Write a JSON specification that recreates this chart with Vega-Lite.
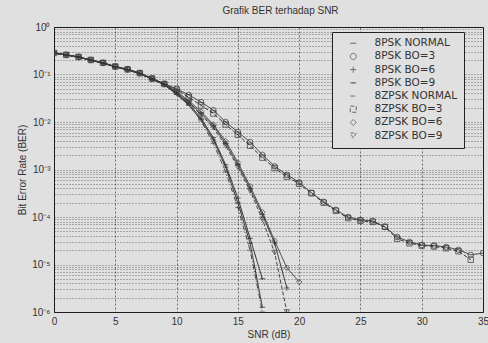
{
 "$schema": "https://vega.github.io/schema/vega-lite/v6.json",
 "width": 429, "height": 285,
 "autosize": {"type": "none"},
 "padding": {"left": 54, "top": 27, "right": 5, "bottom": 31},
 "background": "#e0e0e0",
 "title": {"text": "Grafik BER terhadap SNR", "fontSize": 10, "fontWeight": "normal", "font": "Liberation Sans", "color": "#333", "offset": 6, "dx": 12},
 "config": {
  "view": {"stroke": "#222", "strokeWidth": 1, "fill": "#e0e0e0"},
  "axis": {"labelFont": "Liberation Sans", "labelFontSize": 10, "labelColor": "#333", "titleFont": "Liberation Sans", "titleFontSize": 10, "titleFontWeight": "normal", "titleColor": "#333", "ticks": false, "domain": false, "grid": true, "gridColor": "#111", "gridOpacity": 0.55, "gridDash": [2, 2], "gridWidth": 1, "labelOverlap": false, "labelFlush": false, "labelBound": false}
 },
 "data": {"values": [
  {"s":"8PSK NORMAL","snr":0,"ber":0.282},{"s":"8PSK NORMAL","snr":1,"ber":0.257},{"s":"8PSK NORMAL","snr":2,"ber":0.232},{"s":"8PSK NORMAL","snr":3,"ber":0.2},{"s":"8PSK NORMAL","snr":4,"ber":0.174},{"s":"8PSK NORMAL","snr":5,"ber":0.145},{"s":"8PSK NORMAL","snr":6,"ber":0.126},{"s":"8PSK NORMAL","snr":7,"ber":0.105},{"s":"8PSK NORMAL","snr":8,"ber":0.08},{"s":"8PSK NORMAL","snr":9,"ber":0.061},{"s":"8PSK NORMAL","snr":10,"ber":0.038},{"s":"8PSK NORMAL","snr":11,"ber":0.0224},{"s":"8PSK NORMAL","snr":12,"ber":0.0112},{"s":"8PSK NORMAL","snr":13,"ber":0.0042},{"s":"8PSK NORMAL","snr":14,"ber":0.00112},{"s":"8PSK NORMAL","snr":15,"ber":0.0002},{"s":"8PSK NORMAL","snr":16,"ber":0.000028},{"s":"8PSK NORMAL","snr":17,"ber":0.00000126},
  {"s":"8PSK BO=3","snr":0,"ber":0.285},{"s":"8PSK BO=3","snr":1,"ber":0.26},{"s":"8PSK BO=3","snr":2,"ber":0.235},{"s":"8PSK BO=3","snr":3,"ber":0.203},{"s":"8PSK BO=3","snr":4,"ber":0.177},{"s":"8PSK BO=3","snr":5,"ber":0.148},{"s":"8PSK BO=3","snr":6,"ber":0.13},{"s":"8PSK BO=3","snr":7,"ber":0.108},{"s":"8PSK BO=3","snr":8,"ber":0.083},{"s":"8PSK BO=3","snr":9,"ber":0.064},{"s":"8PSK BO=3","snr":10,"ber":0.05},{"s":"8PSK BO=3","snr":11,"ber":0.0372},{"s":"8PSK BO=3","snr":12,"ber":0.0263},{"s":"8PSK BO=3","snr":13,"ber":0.0178},{"s":"8PSK BO=3","snr":14,"ber":0.01},{"s":"8PSK BO=3","snr":15,"ber":0.00617},{"s":"8PSK BO=3","snr":16,"ber":0.0038},{"s":"8PSK BO=3","snr":17,"ber":0.00204},{"s":"8PSK BO=3","snr":18,"ber":0.00117},{"s":"8PSK BO=3","snr":19,"ber":0.000776},{"s":"8PSK BO=3","snr":20,"ber":0.000537},{"s":"8PSK BO=3","snr":21,"ber":0.000324},{"s":"8PSK BO=3","snr":22,"ber":0.000209},{"s":"8PSK BO=3","snr":23,"ber":0.000141},{"s":"8PSK BO=3","snr":24,"ber":0.0001},{"s":"8PSK BO=3","snr":25,"ber":0.000087},{"s":"8PSK BO=3","snr":26,"ber":0.000083},{"s":"8PSK BO=3","snr":27,"ber":0.000062},{"s":"8PSK BO=3","snr":28,"ber":0.000038},{"s":"8PSK BO=3","snr":29,"ber":0.00003},{"s":"8PSK BO=3","snr":30,"ber":0.0000257},{"s":"8PSK BO=3","snr":31,"ber":0.000025},{"s":"8PSK BO=3","snr":32,"ber":0.0000234},{"s":"8PSK BO=3","snr":33,"ber":0.0000204},{"s":"8PSK BO=3","snr":34,"ber":0.000016},{"s":"8PSK BO=3","snr":35,"ber":0.0000174},
  {"s":"8PSK BO=6","snr":0,"ber":0.282},{"s":"8PSK BO=6","snr":1,"ber":0.257},{"s":"8PSK BO=6","snr":2,"ber":0.232},{"s":"8PSK BO=6","snr":3,"ber":0.2},{"s":"8PSK BO=6","snr":4,"ber":0.174},{"s":"8PSK BO=6","snr":5,"ber":0.145},{"s":"8PSK BO=6","snr":6,"ber":0.126},{"s":"8PSK BO=6","snr":7,"ber":0.105},{"s":"8PSK BO=6","snr":8,"ber":0.08},{"s":"8PSK BO=6","snr":9,"ber":0.062},{"s":"8PSK BO=6","snr":10,"ber":0.0417},{"s":"8PSK BO=6","snr":11,"ber":0.0263},{"s":"8PSK BO=6","snr":12,"ber":0.0151},{"s":"8PSK BO=6","snr":13,"ber":0.00832},{"s":"8PSK BO=6","snr":14,"ber":0.00355},{"s":"8PSK BO=6","snr":15,"ber":0.00126},{"s":"8PSK BO=6","snr":16,"ber":0.000398},{"s":"8PSK BO=6","snr":17,"ber":0.000112},{"s":"8PSK BO=6","snr":18,"ber":0.0000282},{"s":"8PSK BO=6","snr":19,"ber":0.0000032},
  {"s":"8PSK BO=9","snr":0,"ber":0.282},{"s":"8PSK BO=9","snr":1,"ber":0.257},{"s":"8PSK BO=9","snr":2,"ber":0.232},{"s":"8PSK BO=9","snr":3,"ber":0.2},{"s":"8PSK BO=9","snr":4,"ber":0.174},{"s":"8PSK BO=9","snr":5,"ber":0.145},{"s":"8PSK BO=9","snr":6,"ber":0.126},{"s":"8PSK BO=9","snr":7,"ber":0.105},{"s":"8PSK BO=9","snr":8,"ber":0.08},{"s":"8PSK BO=9","snr":9,"ber":0.061},{"s":"8PSK BO=9","snr":10,"ber":0.0398},{"s":"8PSK BO=9","snr":11,"ber":0.024},{"s":"8PSK BO=9","snr":12,"ber":0.012},{"s":"8PSK BO=9","snr":13,"ber":0.00468},{"s":"8PSK BO=9","snr":14,"ber":0.00126},{"s":"8PSK BO=9","snr":15,"ber":0.000251},{"s":"8PSK BO=9","snr":16,"ber":0.0000355},{"s":"8PSK BO=9","snr":17,"ber":0.000005},
  {"s":"8ZPSK NORMAL","snr":0,"ber":0.28},{"s":"8ZPSK NORMAL","snr":1,"ber":0.255},{"s":"8ZPSK NORMAL","snr":2,"ber":0.23},{"s":"8ZPSK NORMAL","snr":3,"ber":0.198},{"s":"8ZPSK NORMAL","snr":4,"ber":0.172},{"s":"8ZPSK NORMAL","snr":5,"ber":0.143},{"s":"8ZPSK NORMAL","snr":6,"ber":0.124},{"s":"8ZPSK NORMAL","snr":7,"ber":0.103},{"s":"8ZPSK NORMAL","snr":8,"ber":0.079},{"s":"8ZPSK NORMAL","snr":9,"ber":0.06},{"s":"8ZPSK NORMAL","snr":10,"ber":0.039},{"s":"8ZPSK NORMAL","snr":11,"ber":0.0234},{"s":"8ZPSK NORMAL","snr":12,"ber":0.0105},{"s":"8ZPSK NORMAL","snr":13,"ber":0.00355},{"s":"8ZPSK NORMAL","snr":14,"ber":0.00089},{"s":"8ZPSK NORMAL","snr":15,"ber":0.000158},{"s":"8ZPSK NORMAL","snr":16,"ber":0.00002},{"s":"8ZPSK NORMAL","snr":17,"ber":0.000001},
  {"s":"8ZPSK BO=3","snr":0,"ber":0.284},{"s":"8ZPSK BO=3","snr":1,"ber":0.259},{"s":"8ZPSK BO=3","snr":2,"ber":0.234},{"s":"8ZPSK BO=3","snr":3,"ber":0.202},{"s":"8ZPSK BO=3","snr":4,"ber":0.176},{"s":"8ZPSK BO=3","snr":5,"ber":0.147},{"s":"8ZPSK BO=3","snr":6,"ber":0.128},{"s":"8ZPSK BO=3","snr":7,"ber":0.107},{"s":"8ZPSK BO=3","snr":8,"ber":0.082},{"s":"8ZPSK BO=3","snr":9,"ber":0.063},{"s":"8ZPSK BO=3","snr":10,"ber":0.048},{"s":"8ZPSK BO=3","snr":11,"ber":0.0331},{"s":"8ZPSK BO=3","snr":12,"ber":0.0224},{"s":"8ZPSK BO=3","snr":13,"ber":0.0151},{"s":"8ZPSK BO=3","snr":14,"ber":0.0089},{"s":"8ZPSK BO=3","snr":15,"ber":0.00537},{"s":"8ZPSK BO=3","snr":16,"ber":0.00316},{"s":"8ZPSK BO=3","snr":17,"ber":0.00178},{"s":"8ZPSK BO=3","snr":18,"ber":0.00107},{"s":"8ZPSK BO=3","snr":19,"ber":0.000708},{"s":"8ZPSK BO=3","snr":20,"ber":0.0005},{"s":"8ZPSK BO=3","snr":21,"ber":0.000316},{"s":"8ZPSK BO=3","snr":22,"ber":0.0002},{"s":"8ZPSK BO=3","snr":23,"ber":0.000135},{"s":"8ZPSK BO=3","snr":24,"ber":0.000095},{"s":"8ZPSK BO=3","snr":25,"ber":0.000083},{"s":"8ZPSK BO=3","snr":26,"ber":0.000079},{"s":"8ZPSK BO=3","snr":27,"ber":0.000062},{"s":"8ZPSK BO=3","snr":28,"ber":0.000035},{"s":"8ZPSK BO=3","snr":29,"ber":0.000028},{"s":"8ZPSK BO=3","snr":30,"ber":0.000025},{"s":"8ZPSK BO=3","snr":31,"ber":0.000024},{"s":"8ZPSK BO=3","snr":32,"ber":0.000022},{"s":"8ZPSK BO=3","snr":33,"ber":0.000019},{"s":"8ZPSK BO=3","snr":34,"ber":0.0000126},
  {"s":"8ZPSK BO=6","snr":0,"ber":0.283},{"s":"8ZPSK BO=6","snr":1,"ber":0.258},{"s":"8ZPSK BO=6","snr":2,"ber":0.233},{"s":"8ZPSK BO=6","snr":3,"ber":0.201},{"s":"8ZPSK BO=6","snr":4,"ber":0.175},{"s":"8ZPSK BO=6","snr":5,"ber":0.146},{"s":"8ZPSK BO=6","snr":6,"ber":0.127},{"s":"8ZPSK BO=6","snr":7,"ber":0.106},{"s":"8ZPSK BO=6","snr":8,"ber":0.081},{"s":"8ZPSK BO=6","snr":9,"ber":0.063},{"s":"8ZPSK BO=6","snr":10,"ber":0.0437},{"s":"8ZPSK BO=6","snr":11,"ber":0.0282},{"s":"8ZPSK BO=6","snr":12,"ber":0.0166},{"s":"8ZPSK BO=6","snr":13,"ber":0.0089},{"s":"8ZPSK BO=6","snr":14,"ber":0.00398},{"s":"8ZPSK BO=6","snr":15,"ber":0.00141},{"s":"8ZPSK BO=6","snr":16,"ber":0.000447},{"s":"8ZPSK BO=6","snr":17,"ber":0.000126},{"s":"8ZPSK BO=6","snr":18,"ber":0.0000316},{"s":"8ZPSK BO=6","snr":19,"ber":0.0000085},{"s":"8ZPSK BO=6","snr":20,"ber":0.0000043},
  {"s":"8ZPSK BO=9","snr":0,"ber":0.282},{"s":"8ZPSK BO=9","snr":1,"ber":0.257},{"s":"8ZPSK BO=9","snr":2,"ber":0.232},{"s":"8ZPSK BO=9","snr":3,"ber":0.2},{"s":"8ZPSK BO=9","snr":4,"ber":0.174},{"s":"8ZPSK BO=9","snr":5,"ber":0.145},{"s":"8ZPSK BO=9","snr":6,"ber":0.126},{"s":"8ZPSK BO=9","snr":7,"ber":0.105},{"s":"8ZPSK BO=9","snr":8,"ber":0.08},{"s":"8ZPSK BO=9","snr":9,"ber":0.062},{"s":"8ZPSK BO=9","snr":10,"ber":0.04},{"s":"8ZPSK BO=9","snr":11,"ber":0.0251},{"s":"8ZPSK BO=9","snr":12,"ber":0.0141},{"s":"8ZPSK BO=9","snr":13,"ber":0.00759},{"s":"8ZPSK BO=9","snr":14,"ber":0.00316},{"s":"8ZPSK BO=9","snr":15,"ber":0.00112},{"s":"8ZPSK BO=9","snr":16,"ber":0.000355},{"s":"8ZPSK BO=9","snr":17,"ber":0.000089},{"s":"8ZPSK BO=9","snr":18,"ber":0.0000178},{"s":"8ZPSK BO=9","snr":19,"ber":0.000001}
 ]},
 "encoding": {
  "x": {"field": "snr", "type": "quantitative", "scale": {"domain": [0, 35], "nice": false, "zero": false},
        "axis": {"title": "SNR (dB)", "values": [0, 5, 10, 15, 20, 25, 30, 35], "labelPadding": 4, "titlePadding": 3}},
  "y": {"field": "ber", "type": "quantitative", "scale": {"type": "log", "domain": [0.000001, 1], "nice": false},
        "axis": {"title": "Bit Error Rate (BER)", "titlePadding": 4, "labelPadding": 4, "gridDash": [1, 2],
                 "values": [0.000001,0.000002,0.000003,0.000004,0.000005,0.000006,0.000007,0.000008,0.000009,0.00001,0.00002,0.00003,0.00004,0.00005,0.00006,0.00007,0.00008,0.00009,0.0001,0.0002,0.0003,0.0004,0.0005,0.0006,0.0007,0.0008,0.0009,0.001,0.002,0.003,0.004,0.005,0.006,0.007,0.008,0.009,0.01,0.02,0.03,0.04,0.05,0.06,0.07,0.08,0.09,0.1,0.2,0.3,0.4,0.5,0.6,0.7,0.8,0.9,1],
                 "labelExpr": "datum.value==1?'10⁰':datum.value==0.1?'10⁻¹':datum.value==0.01?'10⁻²':datum.value==0.001?'10⁻³':datum.value==0.0001?'10⁻⁴':datum.value==0.00001?'10⁻⁵':datum.value==0.000001?'10⁻⁶':''"}}
 },
 "layer": [
  {"data": {"values": [{}]}, "mark": {"type": "rule", "color": "#666", "strokeWidth": 2, "opacity": 0.6}, "encoding": {"x": {"datum": 10, "type": "quantitative"}, "y": null}},
  {"data": {"values": [{}]}, "mark": {"type": "rule", "color": "#666", "strokeWidth": 2, "opacity": 0.6}, "encoding": {"x": {"datum": 20, "type": "quantitative"}, "y": null}},
  {"mark": {"type": "line", "strokeWidth": 1, "clip": true},
   "encoding": {
    "color": {"field": "s", "type": "nominal", "sort": null, "scale": {"domain": ["8PSK NORMAL","8PSK BO=3","8PSK BO=6","8PSK BO=9","8ZPSK NORMAL","8ZPSK BO=3","8ZPSK BO=6","8ZPSK BO=9"], "range": ["#222","#333","#2a2a2a","#222","#444","#333","#3a3a3a","#444"]},
              "legend": {"title": null, "orient": "none", "legendX": 278, "legendY": 5, "fillColor": "#e0e0e0", "strokeColor": "#222", "padding": 6, "labelFont": "DejaVu Sans", "labelFontSize": 10.5, "labelColor": "#333", "symbolSize": 36, "symbolStrokeWidth": 1, "rowPadding": 2.2, "symbolOffset": 10, "labelOffset": 16, "symbolFillColor": "transparent"}},
    "strokeDash": {"field": "s", "type": "nominal", "scale": {"domain": ["8PSK NORMAL","8PSK BO=3","8PSK BO=6","8PSK BO=9","8ZPSK NORMAL","8ZPSK BO=3","8ZPSK BO=6","8ZPSK BO=9"], "range": [[1,0],[1,0],[1,0],[1,0],[5,2,1,2],[4,2],[1,0],[4,2]]}, "legend": null}
   }},
  {"mark": {"type": "point", "filled": false, "size": 30, "strokeWidth": 1, "clip": true},
   "encoding": {
    "color": {"field": "s", "type": "nominal"},
    "shape": {"field": "s", "type": "nominal", "scale": {"domain": ["8PSK NORMAL","8PSK BO=3","8PSK BO=6","8PSK BO=9","8ZPSK NORMAL","8ZPSK BO=3","8ZPSK BO=6","8ZPSK BO=9"], "range": ["M-1,0H1","circle","M-1,0H1M0,-1V1","M-1,0H1M0,-0.3V0.3","M-1,0H1","square","diamond","triangle-down"]},
              "legend": {"title": null}}
   }}
 ]
}
